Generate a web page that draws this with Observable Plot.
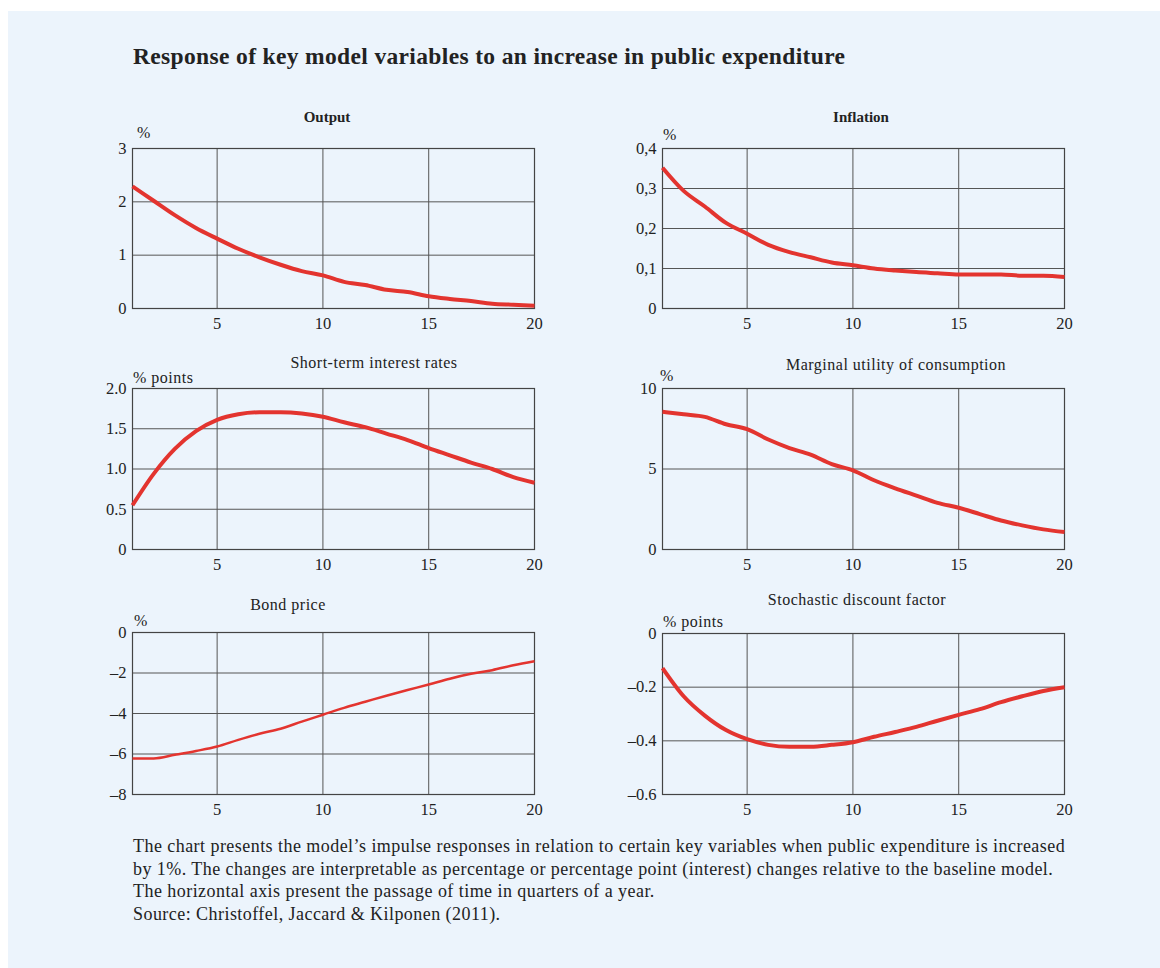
<!DOCTYPE html>
<html>
<head>
<meta charset="utf-8">
<script src="https://cdn.jsdelivr.net/npm/d3@7"></script>
<script src="https://cdn.jsdelivr.net/npm/@observablehq/plot@0.6"></script>
<style>
  html, body { margin: 0; padding: 0; background: #ffffff; }
  #page { position: relative; width: 1160px; height: 968px; background: #ffffff; overflow: hidden; }
  #panel { position: absolute; left: 8px; top: 11px; right: 0; bottom: 0; background: #ecf4fc; }
  .txt { position: absolute; font-family: "Liberation Serif", "DejaVu Serif", serif; color: #222; white-space: nowrap; }
  #title { left: 133px; top: 43px; font-size: 23.5px; letter-spacing: 0.35px; font-weight: bold; }
  .ptitle { font-size: 16px; letter-spacing: 0.5px; transform: translate(-50%, -50%); }
  .ptitle.bold { font-size: 15px; letter-spacing: 0; font-weight: bold; }
  .unit { font-size: 16px; letter-spacing: 0.5px; transform: translate(0, -50%); }
  #caption { left: 133px; top: 835px; font-size: 18px; letter-spacing: 0.45px; line-height: 22.5px; white-space: pre; }
  .chart { position: absolute; }
</style>
</head>
<body>
<div id="page">
  <div id="panel"></div>
</div>
<script>
// ---- data (quarters 1..20) ----
const quarters = [1,2,3,4,5,6,7,8,9,10,11,12,13,14,15,16,17,18,19,20];
const outputVals = [2.29,2.02,1.75,1.51,1.31,1.12,0.96,0.82,0.70,0.62,0.50,0.44,0.35,0.31,0.23,0.18,0.14,0.09,0.07,0.05];
const inflationVals = [0.352,0.294,0.255,0.214,0.187,0.159,0.141,0.128,0.115,0.108,0.100,0.095,0.091,0.088,0.085,0.085,0.085,0.082,0.082,0.079];
const rateVals = [0.55,0.94,1.25,1.47,1.61,1.68,1.705,1.705,1.69,1.65,1.58,1.52,1.44,1.36,1.26,1.17,1.08,1.00,0.90,0.83];
const mucVals = [8.55,8.40,8.24,7.78,7.47,6.83,6.30,5.89,5.30,4.92,4.30,3.80,3.35,2.90,2.59,2.20,1.80,1.50,1.25,1.08];
const bondVals = [-6.22,-6.22,-6.04,-5.85,-5.63,-5.30,-5.00,-4.75,-4.40,-4.06,-3.72,-3.42,-3.12,-2.84,-2.57,-2.28,-2.04,-1.86,-1.62,-1.42];
const sdfVals = [-0.129,-0.234,-0.306,-0.360,-0.394,-0.415,-0.422,-0.422,-0.415,-0.405,-0.385,-0.367,-0.348,-0.325,-0.303,-0.282,-0.256,-0.234,-0.214,-0.200];

const xTicks = [5,10,15,20];
const xTickLabels = ["5","10","15","20"];

const outputTicks = [0,1,2,3];
const outputLabels = ["0","1","2","3"];
const inflationTicks = [0,0.1,0.2,0.3,0.4];
const inflationLabels = ["0","0,1","0,2","0,3","0,4"];
const rateTicks = [0,0.5,1,1.5,2];
const rateLabels = ["0","0.5","1.0","1.5","2.0"];
const mucTicks = [0,5,10];
const mucLabels = ["0","5","10"];
const bondTicks = [-8,-6,-4,-2,0];
const bondLabels = ["\u20138","\u20136","\u20134","\u20132","0"];
const sdfTicks = [-0.6,-0.4,-0.2,0];
const sdfLabels = ["\u20130.6","\u20130.4","\u20130.2","0"];

const panelTitles = ["Output","Inflation","Short-term interest rates","Marginal utility of consumption","Bond price","Stochastic discount factor"];
const unitLabels = ["%","%","% points","%","%","% points"];

const mainTitle = "Response of key model variables to an increase in public expenditure";
const captionText = "The chart presents the model\u2019s impulse responses in relation to certain key variables when public expenditure is increased\nby 1%. The changes are interpretable as percentage or percentage point (interest) changes relative to the baseline model.\nThe horizontal axis present the passage of time in quarters of a year.\nSource: Christoffel, Jaccard & Kilponen (2011).";

// ---- layout ----
const page = document.getElementById("page");
const mk = (cls, id, text, left, top) => {
  const d = document.createElement("div");
  d.className = "txt " + cls;
  if (id) d.id = id;
  d.textContent = text;
  if (left != null) d.style.left = left + "px";
  if (top != null) d.style.top = top + "px";
  page.appendChild(d);
  return d;
};
mk("", "title", mainTitle);
mk("", "caption", captionText);

const panels = [
  {vals: outputVals, ticks: outputTicks, labels: outputLabels, domain: [0,3], fx: 132, fy: 148, fh: 160, tx: 327, ty: 117, bold: true, ux: 137, uy: 133, sw: 4},
  {vals: inflationVals, ticks: inflationTicks, labels: inflationLabels, domain: [0,0.4], fx: 662, fy: 148, fh: 160, tx: 861, ty: 117, bold: true, ux: 663, uy: 135, sw: 4},
  {vals: rateVals, ticks: rateTicks, labels: rateLabels, domain: [0,2], fx: 132, fy: 388, fh: 161, tx: 374, ty: 363, bold: false, ux: 133, uy: 378, sw: 4},
  {vals: mucVals, ticks: mucTicks, labels: mucLabels, domain: [0,10], fx: 662, fy: 388, fh: 161, tx: 896, ty: 365, bold: false, ux: 660, uy: 376, sw: 4},
  {vals: bondVals, ticks: bondTicks, labels: bondLabels, domain: [-8,0], fx: 132, fy: 632, fh: 162, tx: 288, ty: 605, bold: false, ux: 134, uy: 621, sw: 2.5},
  {vals: sdfVals, ticks: sdfTicks, labels: sdfLabels, domain: [-0.6,0], fx: 662, fy: 633, fh: 161, tx: 857, ty: 600, bold: false, ux: 663, uy: 622, sw: 4}
];

const FW = 402, ML = 50, MR = 22, MT = 10, MB = 32;

panels.forEach((p, i) => {
  const data = quarters.map((q, j) => ({q, v: p.vals[j]}));
  const chart = Plot.plot({
    width: ML + FW + MR,
    height: MT + p.fh + MB,
    marginLeft: ML, marginRight: MR, marginTop: MT, marginBottom: MB,
    style: {fontFamily: "'Liberation Serif', 'DejaVu Serif', serif", fontSize: "16.5px", background: "transparent", color: "#222", overflow: "visible"},
    x: {domain: [1, 20]},
    y: {domain: p.domain},
    marks: [
      Plot.gridX(xTicks, {stroke: "#555", strokeOpacity: 1, strokeWidth: 1}),
      Plot.gridY(p.ticks, {stroke: "#555", strokeOpacity: 1, strokeWidth: 1}),
      Plot.frame({stroke: "#444", strokeWidth: 1.2}),
      Plot.axisX(xTicks, {tickSize: 0, tickPadding: 9, fontSize: 16.5, label: null, tickFormat: d => xTickLabels[xTicks.indexOf(d)]}),
      Plot.axisY(p.ticks, {tickSize: 0, tickPadding: 6, fontSize: 16.5, label: null, tickFormat: d => p.labels[p.ticks.indexOf(d)]}),
      Plot.line(data, {x: "q", y: "v", stroke: "#e3342f", strokeWidth: p.sw, curve: "monotone-x", strokeLinejoin: "round", strokeLinecap: "butt"})
    ]
  });
  chart.classList.add("chart");
  chart.style.left = (p.fx - ML) + "px";
  chart.style.top = (p.fy - MT) + "px";
  page.appendChild(chart);

  const t = mk("ptitle" + (p.bold ? " bold" : ""), null, panelTitles[i], p.tx, p.ty);
  mk("unit", null, unitLabels[i], p.ux, p.uy);
});
</script>
</body>
</html>
